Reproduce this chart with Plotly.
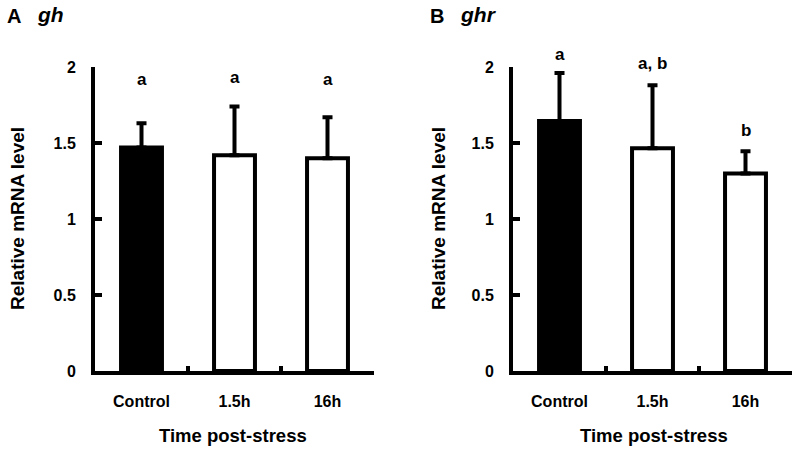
import plotly.graph_objects as go

categories = ["Control", "1.5h", "16h"]
gh_mean = [1.47, 1.42, 1.40]
gh_err_top = [1.63, 1.74, 1.67]
gh_letters = ["a", "a", "a"]
gh_letter_y = [1.92, 1.93, 1.92]
ghr_mean = [1.645, 1.465, 1.30]
ghr_err_top = [1.96, 1.88, 1.445]
ghr_letters = ["a", "a, b", "b"]
ghr_letter_y = [2.08, 2.02, 1.58]
y_ticks = [0, 0.5, 1, 1.5, 2]
y_ticklabels = ["0", "0.5", "1", "1.5", "2"]
y_max = 2
bar_colors = ["black", "white", "white"]

FONT = "Liberation Sans, Arial, sans-serif"
W, H = 797, 452

fig = go.Figure()

panels = [
    ("x", "y", gh_mean, gh_err_top, gh_letters, gh_letter_y),
    ("x2", "y2", ghr_mean, ghr_err_top, ghr_letters, ghr_letter_y),
]
for xa, ya, means, tops, letters, ly in panels:
    fig.add_trace(go.Bar(
        x=categories, y=means, xaxis=xa, yaxis=ya, width=0.44,
        marker=dict(color=bar_colors, line=dict(color="black", width=4)),
        error_y=dict(type="data", symmetric=False,
                     array=[t - m for t, m in zip(tops, means)],
                     arrayminus=[0] * len(means),
                     color="black", thickness=4, width=5),
        showlegend=False, cliponaxis=False,
    ))
    for c, t, yy in zip(categories, letters, ly):
        fig.add_annotation(x=c, y=yy / y_max, xref=xa, yref=f"{ya} domain",
                           text=f"<b>{t}</b>", showarrow=False,
                           xanchor="center", yanchor="middle",
                           font=dict(family=FONT, size=17, color="black"))

xdoms = [[95 / W, 374 / W], [513 / W, 792 / W]]
ydom = [81 / H, 385 / H]

axis_common_x = dict(
    showline=True, linecolor="black", linewidth=4, showgrid=False, zeroline=False,
    range=[-0.5, 2.5], tickson="boundaries", ticks="inside", ticklen=5, tickwidth=4,
    tickcolor="black", tickfont=dict(family=FONT, size=16, color="black", weight="bold"),
    ticklabelstandoff=13, automargin=False,
)
axis_common_y = dict(
    showline=True, linecolor="black", linewidth=4, showgrid=False, zeroline=False,
    range=[0, y_max], tickvals=y_ticks, ticktext=y_ticklabels, ticks="inside", ticklen=7,
    tickwidth=4, tickcolor="black",
    tickfont=dict(family=FONT, size=16, color="black", weight="bold"),
    ticklabelstandoff=12, automargin=False,
)

fig.update_layout(
    template="none",
    width=W, height=H, margin=dict(l=0, r=0, t=0, b=0, pad=0, autoexpand=False),
    paper_bgcolor="white", plot_bgcolor="white",
    xaxis=dict(domain=xdoms[0], anchor="y", **axis_common_x),
    yaxis=dict(domain=ydom, anchor="x", **axis_common_y),
    xaxis2=dict(domain=xdoms[1], anchor="y2", **axis_common_x),
    yaxis2=dict(domain=ydom, anchor="x2", **axis_common_y),
    showlegend=False,
)

def px_x(p):
    return p / W

def px_y(p):
    return 1 - p / H

# panel titles
for lx, gx, letter, gene in [(5, 35, "A", "gh"), (428, 458, "B", "ghr")]:
    fig.add_annotation(x=px_x(lx), y=px_y(16), xref="paper", yref="paper", xanchor="left",
                       yanchor="middle", text=f"<b>{letter}</b>", showarrow=False,
                       font=dict(family=FONT, size=20, color="black"))
    fig.add_annotation(x=px_x(gx), y=px_y(15), xref="paper", yref="paper", xanchor="left",
                       yanchor="middle", text=f"<b><i>{gene}</i></b>", showarrow=False,
                       font=dict(family=FONT, size=21, color="black"))

# y titles
for cx in [17, 438]:
    fig.add_annotation(x=px_x(cx), y=px_y(219), xref="paper", yref="paper",
                       xanchor="center", yanchor="middle",
                       text="<b>Relative mRNA level</b>", textangle=-90, showarrow=False,
                       font=dict(family=FONT, size=19, color="black"))
# x titles
for cx in [233, 654]:
    fig.add_annotation(x=px_x(cx), y=px_y(435), xref="paper", yref="paper",
                       xanchor="center", yanchor="middle",
                       text="<b>Time post-stress</b>", showarrow=False,
                       font=dict(family=FONT, size=18.5, color="black"))

fig.write_html("out.html", config={"displayModeBar": False},
               post_script="document.body.style.margin='0';document.body.style.overflow='hidden';")
